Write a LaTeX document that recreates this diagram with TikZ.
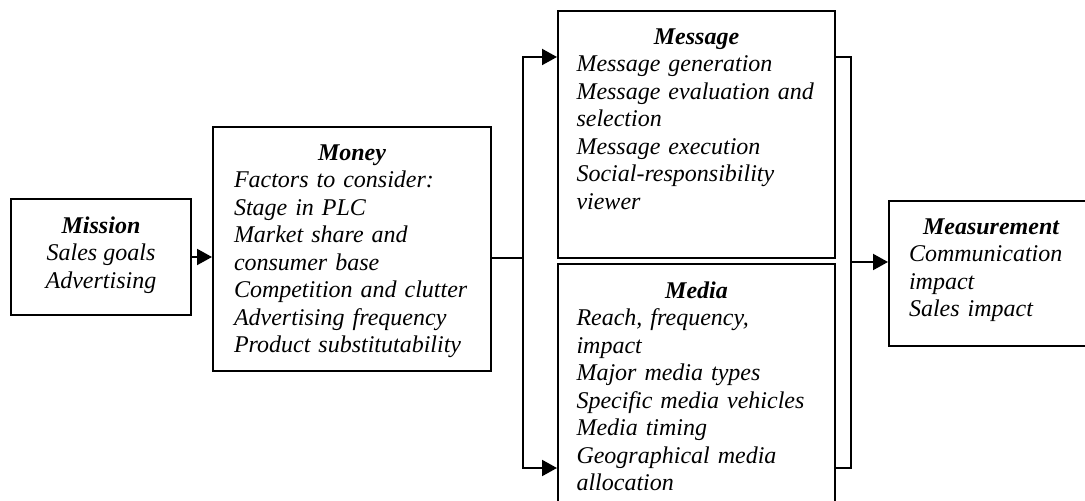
\documentclass[tikz,border=0pt]{standalone}
\usepackage{fontspec}
\setmainfont{Liberation Serif}
\usepackage{tikz}
\usetikzlibrary{arrows.meta,positioning}

\newcommand{\boxhead}[1]{\hfill\textbf{#1}\hfill\null\\}

\begin{document}
\begin{tikzpicture}[x=0.5pt,y=-0.5pt,
    box/.style={draw, line width=1pt, anchor=north west, inner sep=0pt},
    txt/.style={anchor=north, inner sep=0pt, align=left, yshift=-9pt,
      font=\fontsize{12}{13.75}\selectfont\itshape},
    arr/.style={line width=1pt, -{Triangle[length=7.5pt,width=8pt]}}]
    \clip (0,0) rectangle (1085,501);

    % Boxes
    \node[box, minimum width=90pt, minimum height=58pt] (mission) at (10,198) {};
    \node[box, minimum width=139pt, minimum height=122pt] (money) at (212,126) {};
    \node[box, minimum width=138.5pt, minimum height=123.5pt] (message) at (557,10) {};
    \node[box, minimum width=138.5pt, minimum height=130pt] (media) at (557,263) {};
    \node[box, minimum width=102pt, minimum height=72.5pt] (measure) at (888,200) {};

    % Texts
    \node[txt, align=center] (mission-t) at (mission.north)
        {\textbf{Mission}\\ Sales goals\\ Advertising};
    \node[txt, text width=118pt] (money-t) at (money.north)
        {\boxhead{Money}Factors to consider:\\ Stage in PLC\\ Market share and\\
         consumer base\\ Competition and clutter\\ Advertising frequency\\
         Product substitutability};
    \node[txt, text width=120pt] (message-t) at (message.north)
        {\boxhead{Message}Message generation\\ Message evaluation and\\ selection\\
         Message execution\\ Social-responsibility\\ viewer};
    \node[txt, text width=120pt] (media-t) at (media.north)
        {\boxhead{Media}Reach, frequency,\\ impact\\ Major media types\\
         Specific media vehicles\\ Media timing\\ Geographical media\\ allocation};
    \node[txt, text width=82pt] (measure-t) at (measure.north)
        {\boxhead{Measurement}Communication\\ impact\\ Sales impact};

    % Connectors
    \coordinate (fork) at (523,258);
    \coordinate (join) at (851,262);
    \draw[arr] (mission.east) -- (mission.east -| money.west);
    \draw[line width=1pt] (fork -| money.east) -- (fork);
    \draw[arr] (fork) |- ([yshift=-23.5pt]message.north west);
    \draw[arr] (fork) |- ([yshift=-102.5pt]media.north west);
    \draw[line width=0.7pt] ([yshift=-23.5pt]message.north east) -| (join)
        |- ([yshift=-102.5pt]media.north east);
    \draw[arr] (join) -- (join -| measure.west);
\end{tikzpicture}
\end{document}
